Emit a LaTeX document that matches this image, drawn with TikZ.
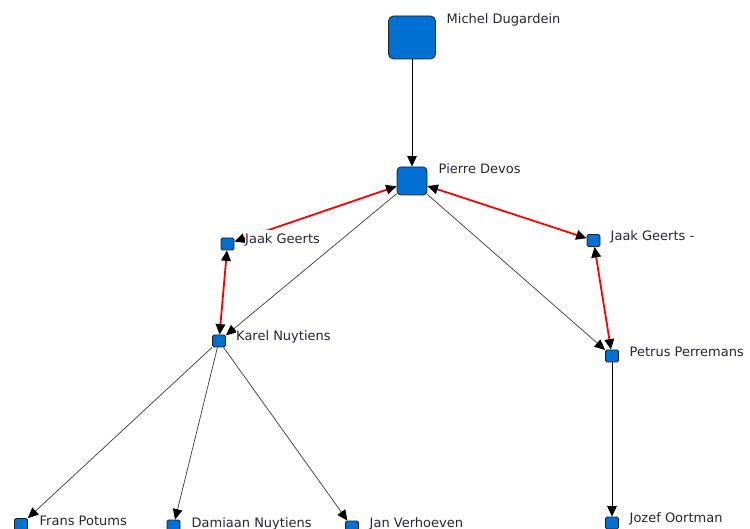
\documentclass[tikz,border=0pt]{standalone}
\usepackage{fontspec}
\setmainfont{DejaVu Sans}
\usetikzlibrary{arrows.meta}
\definecolor{boxblue}{HTML}{0070D2}
\definecolor{boxline}{HTML}{202020}
\definecolor{txt}{HTML}{262633}
\definecolor{edgegray}{HTML}{383838}
\definecolor{relred}{HTML}{FF0000}
\tikzset{
  pbox/.style={draw=boxline, line width=0.8pt, fill=boxblue, rounded corners=1.5pt,
    minimum width=13pt, minimum height=12pt, inner sep=0pt},
  midbox/.style={pbox, rounded corners=4pt, minimum width=30pt, minimum height=28pt},
  bigbox/.style={pbox, rounded corners=5pt, minimum width=47pt, minimum height=43pt},
  lbl/.style={anchor=base west, fill=white, text=txt, inner xsep=0.5pt, inner ysep=4pt,
    font=\fontsize{13}{15}\selectfont},
  link/.style={draw=edgegray, line width=0.7pt, -{Triangle[length=10.5pt,width=9.5pt,black]}},
  strong/.style={draw=black, line width=0.9pt, -{Triangle[length=10.5pt,width=9.5pt,black]}},
  rel/.style={draw=relred, line width=1.8pt,
    {Triangle[length=10.5pt,width=9.5pt,black]}-{Triangle[length=10.5pt,width=9.5pt,black]}},
}
\begin{document}
\begin{tikzpicture}[x=1pt,y=-1pt]
\useasboundingbox (0,0) rectangle (750,529);
% nodes
\node[bigbox] (md) at (412,37.5) {};
\node[midbox] (pd) at (412,181) {};
\node[pbox] (jg) at (227.5,244) {};
\node[pbox] (jg2) at (593.5,240.5) {};
\node[pbox] (kn) at (219,341) {};
\node[pbox] (pp) at (612,356) {};
\node[pbox] (fp) at (21,524.5) {};
\node[pbox] (dn) at (173.5,526) {};
\node[pbox] (jv) at (352,527) {};
\node[pbox] (jo) at (612,523) {};
% edges
\draw[strong] (md) -- (pd);
\draw[link] (pd) -- (kn);
\draw[link] (pd) -- (pp);
\draw[rel] (jg) -- (pd);
\draw[rel] (jg) -- (kn);
\draw[rel] (pd) -- (jg2);
\draw[rel] (jg2) -- (pp);
\draw[link] (kn) -- (fp);
\draw[link] (kn) -- (dn);
\draw[link] (kn) -- (jv);
\draw[strong] (pp) -- (jo);
% labels
\node[lbl] (lmd) at (446,23.5) {Michel Dugardein};
\node[lbl] (lpd) at (438,174) {Pierre Devos};
\node[lbl] (ljg) at (244.5,244) {Jaak Geerts};
\node[lbl] (ljg2) at (610,241) {Jaak Geerts -};
\node[lbl] (lkn) at (235.5,341) {Karel Nuytiens};
\node[lbl] (lpp) at (629,357) {Petrus Perremans};
\node[lbl] (lfp) at (39,525) {Frans Potums};
\node[lbl] (ldn) at (191,527) {Damiaan Nuytiens};
\node[lbl] (ljv) at (369,527) {Jan Verhoeven};
\node[lbl] (ljo) at (629,522.5) {Jozef Oortman};
\end{tikzpicture}
\end{document}
